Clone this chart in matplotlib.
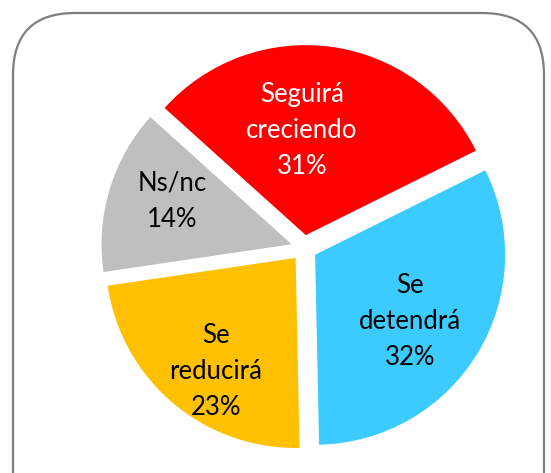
import matplotlib.pyplot as plt
import numpy as np
from matplotlib.patches import FancyBboxPatch

# datos
etiquetas = ["Seguirá\ncreciendo", "Se\ndetendrá", "Se\nreducirá", "Ns/nc"]
valores = [31, 32, 23, 14]
colores = ["#FF0000", "#3CCBFF", "#FFC000", "#BFBFBF"]
color_texto = ["white", "black", "black", "black"]

W, H = 551, 473
fig = plt.figure(figsize=(W / 100, H / 100), dpi=100)
ax = fig.add_axes([0, 0, 1, 1])
ax.set_xlim(0, W)
ax.set_ylim(0, H)
ax.set_aspect("equal")
ax.axis("off")

# marco redondeado
marco = FancyBboxPatch((13, -60), 531, 520, boxstyle="round,pad=0,rounding_size=62",
                       fc="white", ec="#7F7F7F", lw=1.6, zorder=0)
ax.add_patch(marco)

R = 190
centro = (304, H - 248)
wedges, _ = ax.pie(valores, colors=colores, startangle=138, counterclock=False,
                   explode=[13] * 4, radius=R, center=centro,
                   wedgeprops=dict(linewidth=0))
ax.set_xlim(0, W)
ax.set_ylim(0, H)

# posicion de etiquetas (fraccion del radio, ajuste de angulo)
dist = [0.55, 0.61, 0.73, 0.67]
ajuste = [10, -4, 5, -3]
for w, lab, v, c, d, a in zip(wedges, etiquetas, valores, color_texto, dist, ajuste):
    ang = np.deg2rad((w.theta1 + w.theta2) / 2 + a)
    cx, cy = w.center
    ax.text(cx + d * R * np.cos(ang), cy + d * R * np.sin(ang), f"{lab}\n{v}%",
            ha="center", va="center", color=c, fontsize=18.5, family="Lato",
            linespacing=1.55)

fig.savefig("out.png", dpi=100)
